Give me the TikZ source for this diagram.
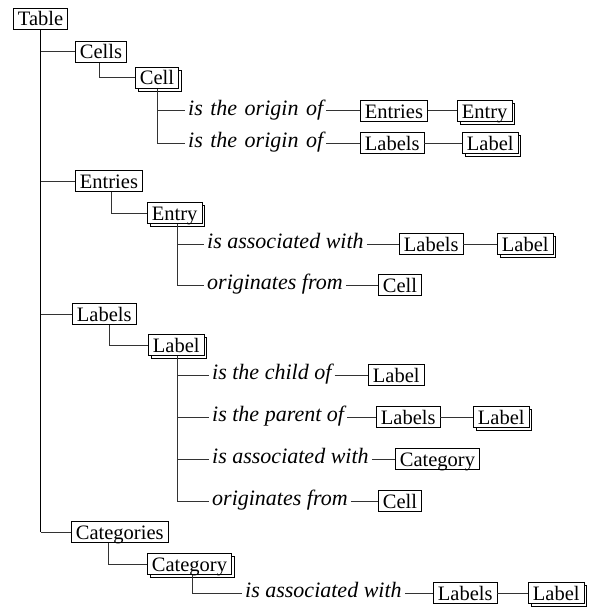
\documentclass[tikz,border=0pt]{standalone}
\usepackage{fontspec}
\setmainfont{Liberation Serif}
\usetikzlibrary{shadows}
\newcommand\widerspaces{\spaceskip 7.5pt\relax}
\begin{document}
\begin{tikzpicture}[x=1pt,y=-1pt,
  box/.style={draw=black, line width=0.8pt, fill=white, inner xsep=4.5pt, inner ysep=1pt,
    text height=16.5pt, text depth=2.5pt, font=\fontsize{20.5}{22}\selectfont, anchor=west},
  multi/.style={box, copy shadow={shadow xshift=2.5pt, shadow yshift=-2.5pt}},
  rel/.style={inner xsep=3pt, inner ysep=0pt, text height=9pt, text depth=0pt,
    font=\fontsize{22}{24}\selectfont\itshape, anchor=west},
  relwide/.style={rel, font=\fontsize{22}{24}\selectfont\itshape\widerspaces},
  trunk/.style={line width=1.4pt, draw=black},
  link/.style={line width=1pt, draw=black!80},
]
\useasboundingbox (0,0) rectangle (595,607);

% level 0 and 1
\node[box] (table) at (13,19) {Table};
\node[box] (cells) at (75,52) {Cells};
\node[box] (entries) at (75,181) {Entries};
\node[box] (labels) at (72,314) {Labels};
\node[box] (categories) at (71,532) {Categories};

% level 2
\node[multi] (cell) at (135,78) {Cell};
\node[multi] (entry) at (147,213) {Entry};
\node[multi] (label) at (148,345) {Label};
\node[multi] (category) at (147,564) {Category};

% Cell relations
\node[relwide] (r1) at (185,111) {is the origin of};
\node[box] (r1a) at (360,111) {Entries};
\node[multi] (r1b) at (457,111) {Entry};
\node[relwide] (r2) at (185,143) {is the origin of};
\node[box] (r2a) at (360,143) {Labels};
\node[multi] (r2b) at (462,143) {Label};

% Entry relations
\node[rel] (r3) at (204,244) {is associated with};
\node[box] (r3a) at (399,244) {Labels};
\node[multi] (r3b) at (497,244) {Label};
\node[rel] (r4) at (204,285) {originates from};
\node[box] (r4a) at (378,285) {Cell};

% Label relations
\node[rel] (r5) at (209,375) {is the child of};
\node[box] (r5a) at (368,375) {Label};
\node[rel] (r6) at (209,417) {is the parent of};
\node[box] (r6a) at (376,417) {Labels};
\node[multi] (r6b) at (473,417) {Label};
\node[rel] (r7) at (209,459) {is associated with};
\node[box] (r7a) at (395,459) {Category};
\node[rel] (r8) at (209,501) {originates from};
\node[box] (r8a) at (378,501) {Cell};

% Category relations
\node[rel] (r9) at (242,593) {is associated with};
\node[box] (r9a) at (433,593) {Labels};
\node[multi] (r9b) at (528,593) {Label};

% trunk
\draw[trunk] (table.south) -- (table.south |- categories.west);
\draw[link] (table.south |- cells.west) -- (cells.west);
\draw[link] (table.south |- entries.west) -- (entries.west);
\draw[link] (table.south |- labels.west) -- (labels.west);
\draw[link] (table.south |- categories.west) -- (categories.west);

% level 1 -> level 2
\draw[link] ([xshift=24pt]cells.south west) |- (cell.west);
\draw[link] ([xshift=36pt]entries.south west) |- (entry.west);
\draw[link] ([xshift=37pt]labels.south west) |- (label.west);
\draw[link] ([xshift=37pt]categories.south west) |- (category.west);

% level 2 -> relations
\draw[link] ([xshift=22pt]cell.south west) |- (r1.west);
\draw[link] ([xshift=22pt]cell.south west) |- (r2.west);
\draw[link] ([xshift=30pt]entry.south west) |- (r3.west);
\draw[link] ([xshift=30pt]entry.south west) |- (r4.west);
\draw[link] ([xshift=29pt]label.south west) |- (r5.west);
\draw[link] ([xshift=29pt]label.south west) |- (r6.west);
\draw[link] ([xshift=29pt]label.south west) |- (r7.west);
\draw[link] ([xshift=29pt]label.south west) |- (r8.west);
\draw[link] ([xshift=45pt]category.south west) |- (r9.west);

% relation chains
\draw[link] (r1.east) -- (r1a.west);
\draw[link] (r1a.east) -- (r1b.west);
\draw[link] (r2.east) -- (r2a.west);
\draw[link] (r2a.east) -- (r2b.west);
\draw[link] (r3.east) -- (r3a.west);
\draw[link] (r3a.east) -- (r3b.west);
\draw[link] (r4.east) -- (r4a.west);
\draw[link] (r5.east) -- (r5a.west);
\draw[link] (r6.east) -- (r6a.west);
\draw[link] (r6a.east) -- (r6b.west);
\draw[link] (r7.east) -- (r7a.west);
\draw[link] (r8.east) -- (r8a.west);
\draw[link] (r9.east) -- (r9a.west);
\draw[link] (r9a.east) -- (r9b.west);
\end{tikzpicture}
\end{document}
